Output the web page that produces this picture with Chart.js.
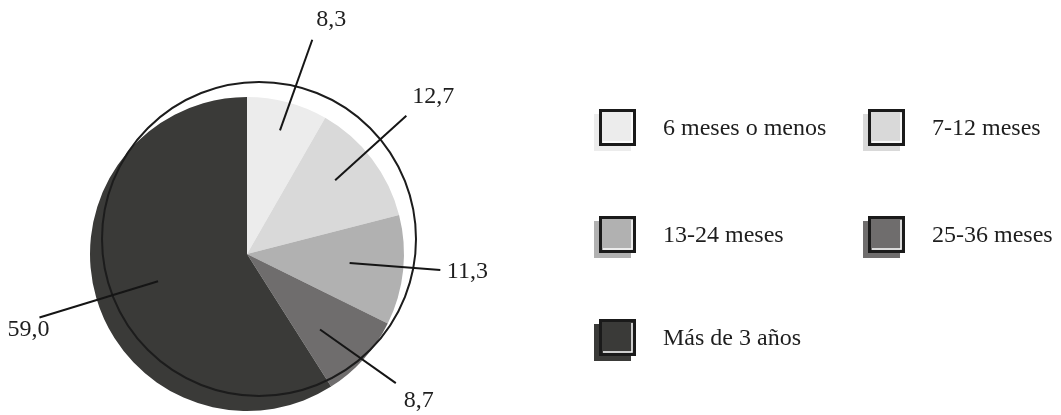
<!DOCTYPE html>
<html>
<head>
<meta charset="utf-8">
<script src="https://cdn.jsdelivr.net/npm/chart.js@4"></script>
<style>
  html, body { margin: 0; padding: 0; background: #fff; }
  #wrap { width: 1061px; height: 415px; position: relative; }
</style>
</head>
<body>
<div id="wrap"><canvas id="tenureChart"></canvas></div>
<script>
const categories = ['6 meses o menos', '7-12 meses', '13-24 meses', '25-36 meses', 'Más de 3 años']
const shares = [8.3, 12.7, 11.3, 8.7, 59.0]
const greys = ['#ececec', '#d9d9d9', '#b1b1b1', '#6f6d6d', '#3a3a38']

const FONT = '24px "Liberation Serif", "DejaVu Serif", serif'

// leader lines: radii in px from the pie centre, turns in degrees off the slice middle,
// label offset from the outer end of the line
const leaders = [
  { rIn: 128, turnIn: 0, rOut: 224, turnOut: 2, dx: 19, dy: -20 },
  { rIn: 115, turnIn: -2.7, rOut: 211, turnOut: -3.7, dx: 27, dy: -19 },
  { rIn: 103, turnIn: -0.9, rOut: 194, turnOut: -1.2, dx: 27, dy: 2 },
  { rIn: 105, turnIn: 4, rOut: 197, turnOut: -1, dx: 23, dy: 18 },
  { rIn: 93, turnIn: -0.8, rOut: 217, turnOut: -0.8, dx: -11, dy: 12 }
]

// legend grid
const legendCols = [599, 868]
const legendRows = [109, 216, 319]
const BOX = 37

function fmt(v) {
  return v.toFixed(1).replace('.', ',')
}

const decorations = {
  id: 'decorations',
  afterDatasetsDraw(chart) {
    const ctx = chart.ctx
    const arcs = chart.getDatasetMeta(0).data
    const { x, y } = arcs[0].getProps(['x', 'y'], true)

    // offset outline ring
    ctx.save()
    ctx.beginPath()
    ctx.arc(x + 12, y - 15, 157, 0, Math.PI * 2)
    ctx.lineWidth = 2
    ctx.strokeStyle = '#1c1c1c'
    ctx.stroke()
    ctx.restore()

    // leader lines and value labels
    ctx.save()
    ctx.strokeStyle = '#151515'
    ctx.lineWidth = 2
    ctx.fillStyle = '#1e1e1e'
    ctx.font = FONT
    ctx.textAlign = 'center'
    ctx.textBaseline = 'middle'
    arcs.forEach((arc, i) => {
      const p = arc.getProps(['startAngle', 'endAngle'], true)
      const mid = (p.startAngle + p.endAngle) / 2
      const l = leaders[i]
      const a1 = mid + l.turnIn * Math.PI / 180
      const a2 = mid + l.turnOut * Math.PI / 180
      const x1 = x + l.rIn * Math.cos(a1), y1 = y + l.rIn * Math.sin(a1)
      const x2 = x + l.rOut * Math.cos(a2), y2 = y + l.rOut * Math.sin(a2)
      ctx.beginPath()
      ctx.moveTo(x1, y1)
      ctx.lineTo(x2, y2)
      ctx.stroke()
      ctx.fillText(fmt(chart.data.datasets[0].data[i]), x2 + l.dx, y2 + l.dy)
    })
    ctx.restore()
  },
  afterDraw(chart) {
    const ctx = chart.ctx
    const colors = chart.data.datasets[0].backgroundColor
    ctx.save()
    ctx.font = FONT
    ctx.textBaseline = 'middle'
    chart.data.labels.forEach((label, i) => {
      const bx = legendCols[i % 2]
      const by = legendRows[Math.floor(i / 2)]
      // shadow square
      ctx.fillStyle = colors[i]
      ctx.fillRect(bx - 5, by + 5, BOX, BOX)
      // framed square
      ctx.fillRect(bx, by, BOX, BOX)
      ctx.strokeStyle = '#ffffff'
      ctx.lineWidth = 1.5
      ctx.beginPath()
      ctx.moveTo(bx + BOX - 4, by + 4)
      ctx.lineTo(bx + BOX - 4, by + BOX - 4)
      ctx.lineTo(bx + 4, by + BOX - 4)
      ctx.stroke()
      ctx.strokeStyle = '#1a1a1a'
      ctx.lineWidth = 3
      ctx.strokeRect(bx + 1.5, by + 1.5, BOX - 3, BOX - 3)
      ctx.fillStyle = '#1e1e1e'
      ctx.fillText(label, bx + 64, by + BOX / 2 + 1)
    })
    ctx.restore()
  }
}

const tenureChart = new Chart(document.getElementById('tenureChart'), {
  type: 'pie',
  data: {
    labels: categories,
    datasets: [{
      data: shares,
      backgroundColor: greys,
      borderWidth: 0
    }]
  },
  options: {
    responsive: true,
    maintainAspectRatio: false,
    animation: false,
    layout: { padding: { left: 90, top: 97, right: 657, bottom: 4 } },
    plugins: {
      legend: { display: false },
      tooltip: { enabled: false }
    }
  },
  plugins: [decorations]
})
</script>
</body>
</html>
